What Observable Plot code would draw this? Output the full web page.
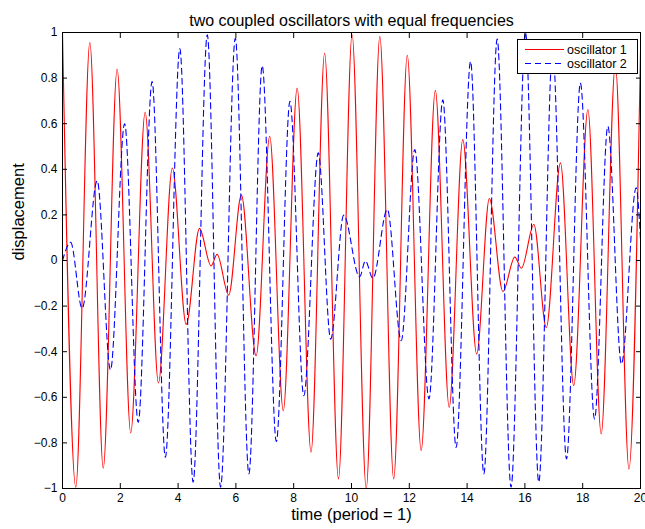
<!DOCTYPE html>
<html>
<head>
<meta charset="utf-8">
<script src="https://cdn.jsdelivr.net/npm/d3@7"></script>
<script src="https://cdn.jsdelivr.net/npm/@observablehq/plot@0.6"></script>
<style>
  html, body { margin: 0; padding: 0; background: #fff; }
  #wrap { position: relative; width: 645px; height: 529px; font-family: "Liberation Sans", Arial, sans-serif; }
  #legend { position: absolute; left: 517px; top: 39px; width: 119px; height: 33px; background: #fff; border: 1px solid #000; }
  #legend svg { position: absolute; left: 0; top: 0; }
</style>
</head>
<body>
<div id="wrap"></div>
<script>
const titleText = "two coupled oscillators with equal frequencies";
const xLabel = "time (period = 1)";
const yLabel = "displacement";
const seriesNames = ["oscillator 1", "oscillator 2"];
const xTicks = [0, 2, 4, 6, 8, 10, 12, 14, 16, 18, 20];
const yTicks = [-1, -0.8, -0.6, -0.4, -0.2, 0, 0.2, 0.4, 0.6, 0.8, 1];

// oscillator 1 (red, solid): extrema
const t1 = [0, 0.46, 0.946, 1.41, 1.89, 2.36, 2.86, 3.32, 3.80, 4.28, 4.74, 5.14, 5.35, 5.75, 6.19, 6.70, 7.17, 7.64, 8.12, 8.60, 9.07, 9.55, 10.02, 10.51, 10.98, 11.46, 11.93, 12.41, 12.90, 13.38, 13.85, 14.33, 14.77, 15.24, 15.65, 15.88, 16.31, 16.74, 17.23, 17.69, 18.18, 18.64, 19.13, 19.60, 20];
const v1 = [1, -0.994, 0.956, -0.911, 0.84, -0.756, 0.65, -0.537, 0.406, -0.28, 0.141, -0.024, 0.027, -0.152, 0.287, -0.418, 0.545, -0.659, 0.756, -0.841, 0.909, -0.958, 0.99, -1.0, 0.982, -0.958, 0.90, -0.834, 0.746, -0.644, 0.53, -0.41, 0.272, -0.136, 0.015, -0.034, 0.158, -0.294, 0.428, -0.549, 0.662, -0.761, 0.859, -0.914, 0.917];

// oscillator 2 (blue, dashed)
const t2 = [0, 0.28, 0.68, 1.2, 1.66, 2.15, 2.62, 3.10, 3.56, 4.06, 4.52, 5.01, 5.47, 5.98, 6.45, 6.91, 7.40, 7.87, 8.35, 8.85, 9.28, 9.73, 10.28, 10.48, 10.74, 11.24, 11.72, 12.19, 12.68, 13.16, 13.62, 14.12, 14.58, 15.04, 15.52, 16.02, 16.48, 16.96, 17.44, 17.92, 18.41, 18.87, 19.34, 19.85, 20];
const v2 = [0, 0.08, -0.21, 0.35, -0.48, 0.60, -0.71, 0.785, -0.863, 0.93, -0.972, 0.99, -0.994, 0.975, -0.936, 0.854, -0.794, 0.698, -0.593, 0.472, -0.345, 0.199, -0.072, -0.002, -0.078, 0.224, -0.352, 0.487, -0.607, 0.705, -0.82, 0.873, -0.936, 0.971, -0.994, 1.0, -0.972, 0.93, -0.87, 0.778, -0.695, 0.589, -0.454, 0.319, 0.093];

const s1 = t1.map((t, i) => ({t, v: v1[i]}));
const s2 = t2.map((t, i) => ({t, v: v2[i]}));

const fmtY = d => d === 0 ? "0" : (d < 0 ? "\u2212" : "") + String(+Math.abs(d).toFixed(1));

const chart = Plot.plot({
  width: 645,
  height: 529,
  marginLeft: 62,
  marginRight: 5,
  marginTop: 32,
  marginBottom: 41,
  style: {fontFamily: "'Liberation Sans', Arial, sans-serif", fontSize: "12px", background: "white", color: "black"},
  x: {domain: [0, 20]},
  y: {domain: [-1, 1]},
  marks: [
    Plot.line(s1, {x: "t", y: "v", stroke: "#ff0000", strokeWidth: 1.1, curve: "monotone-x", clip: true}),
    Plot.line(s2, {x: "t", y: "v", stroke: "#0000ff", strokeWidth: 1.1, strokeDasharray: "6,4", curve: "monotone-x", clip: true}),
    Plot.axisX(xTicks, {anchor: "bottom", tickSize: 0, tickPadding: 5, label: null, fontSize: 12}),
    Plot.axisX(xTicks, {anchor: "bottom", tickSize: -5, tickFormat: () => "", label: null}),
    Plot.axisX(xTicks, {anchor: "top", tickSize: -5, tickFormat: () => "", label: null}),
    Plot.axisY(yTicks, {anchor: "left", tickSize: 0, tickPadding: 5, tickFormat: fmtY, label: null, fontSize: 12}),
    Plot.axisY(yTicks, {anchor: "left", tickSize: -5, tickFormat: () => "", label: null}),
    Plot.axisY(yTicks, {anchor: "right", tickSize: -5, tickFormat: () => "", label: null}),
    Plot.frame({stroke: "black", strokeWidth: 1}),
    Plot.text([titleText], {frameAnchor: "top", dy: -18, text: d => d, fontSize: 16, fill: "black"}),
    Plot.text([xLabel], {frameAnchor: "bottom", dy: 31, text: d => d, fontSize: 16.5, fill: "black"}),
    Plot.text([yLabel], {frameAnchor: "left", dx: -44, rotate: -90, text: d => d, fontSize: 16.5, fill: "black"})
  ]
});

const wrap = document.getElementById("wrap");
wrap.appendChild(chart);

// legend
const legend = document.createElement("div");
legend.id = "legend";
const colors = ["#ff0000", "#0000ff"];
const dashes = [null, "6,4"];
const ns = "http://www.w3.org/2000/svg";
const svg = document.createElementNS(ns, "svg");
svg.setAttribute("width", 119);
svg.setAttribute("height", 33);
seriesNames.forEach((name, i) => {
  const y = 9.5 + i * 14;
  const ln = document.createElementNS(ns, "line");
  ln.setAttribute("x1", 7); ln.setAttribute("x2", 46);
  ln.setAttribute("y1", y); ln.setAttribute("y2", y);
  ln.setAttribute("stroke", colors[i]);
  ln.setAttribute("stroke-width", 1.1);
  if (dashes[i]) ln.setAttribute("stroke-dasharray", dashes[i]);
  svg.appendChild(ln);
  const tx = document.createElementNS(ns, "text");
  tx.setAttribute("x", 49); tx.setAttribute("y", y + 4.3);
  tx.setAttribute("font-size", "12.5px");
  tx.setAttribute("font-family", "'Liberation Sans', Arial, sans-serif");
  tx.textContent = name;
  svg.appendChild(tx);
});
legend.appendChild(svg);
wrap.appendChild(legend);
</script>
</body>
</html>
